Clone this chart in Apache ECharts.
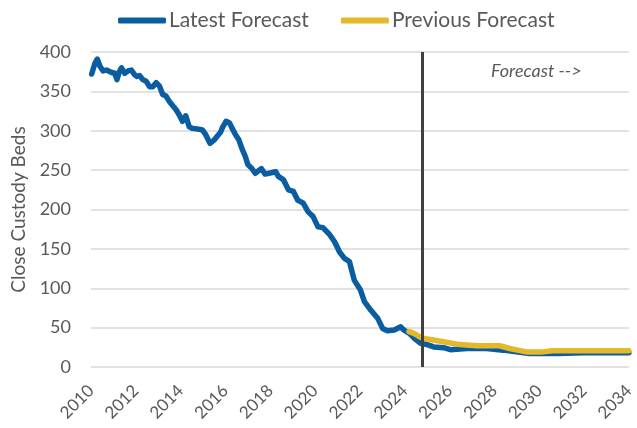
<!DOCTYPE html>
<html>
<head>
<meta charset="utf-8">
<script src="https://cdn.jsdelivr.net/npm/echarts@6/dist/echarts.min.js"></script>
<style>
    html, body { margin: 0; padding: 0; background: #fff; }
    #myChart { width: 637px; height: 428px; }
</style>
</head>
<body>
<div id="myChart"></div>
<script>
    // 最新预测 (历史 + 预测)
    const latestYears = [2010.03, 2010.18, 2010.28, 2010.40, 2010.54, 2010.69, 2010.92, 2011.06, 2011.16, 2011.25,
        2011.36, 2011.50, 2011.65, 2011.80, 2011.95, 2012.05, 2012.17, 2012.31, 2012.46, 2012.61,
        2012.76, 2012.91, 2013.05, 2013.20, 2013.35, 2013.50, 2013.64, 2013.79, 2013.94, 2014.08,
        2014.23, 2014.38, 2014.53, 2014.82, 2014.97, 2015.12, 2015.31, 2015.49, 2015.63, 2015.78,
        2015.88, 2016.03, 2016.18, 2016.30, 2016.45, 2016.59, 2016.74, 2016.89, 2017.00, 2017.18,
        2017.33, 2017.60, 2017.77, 2018.24, 2018.36, 2018.58, 2018.81, 2019.03, 2019.22, 2019.47,
        2019.69, 2019.91, 2020.13, 2020.35, 2020.65, 2020.87, 2021.09, 2021.31, 2021.53, 2021.75,
        2022.02, 2022.20, 2022.49, 2022.79, 2023.01, 2023.23, 2023.53, 2023.82, 2023.96, 2024.19,
        2024.48, 2024.71, 2025.00, 2025.29, 2025.73, 2026.03, 2026.77, 2027.65, 2028.39, 2028.98,
        2029.57, 2030.82, 2032.00, 2034.00]
    const latestBeds = [372, 386, 391, 382, 376, 377, 374, 373, 365, 374,
        380, 373, 376, 377, 371, 369, 370, 365, 363, 356,
        356, 361, 357, 346, 344, 337, 332, 327, 320, 312,
        319, 305, 303, 302, 301, 295, 284, 288, 293, 298,
        305, 312, 310, 303, 295, 289, 277, 267, 257, 252,
        246, 252, 245, 248, 242, 238, 225, 223, 212, 208,
        197, 191, 178, 177, 168, 159, 146, 138, 134, 110,
        98, 83, 72, 62, 49, 46, 47, 51, 47, 43,
        35, 30, 28.5, 25.5, 24.5, 22, 23.5, 23.5, 21.4, 19.2,
        17, 17, 18, 18]

    // 上一次预测
    const prevYears = [2024.19, 2024.41, 2024.71, 2025.00, 2025.73, 2026.33, 2027.21, 2028.24, 2028.68, 2029.42,
        2030.16, 2030.60, 2034.00]
    const prevBeds = [45, 42.7, 37.6, 35.5, 32, 29, 27, 27, 23.5, 19.2,
        19.2, 20.5, 20.5]

    const forecastStart = 2024.8
    const yTicks = [0, 50, 100, 150, 200, 250, 300, 350, 400]

    const zip = (xs, ys) => xs.map((x, i) => [x, ys[i]])

    const font = 'Lato, "Open Sans", sans-serif'
    const grey = '#595959'

    let opt = {
        animation: false,
        textStyle: { fontFamily: font },
        legend: {
            left: 113,
            top: 5,
            icon: 'roundRect',
            itemWidth: 48,
            itemHeight: 6,
            itemGap: 32,
            textStyle: { fontSize: 21, color: grey, fontFamily: font, padding: [0, 0, 0, -2] },
            data: ['Latest Forecast', 'Previous Forecast']
        },
        grid: { left: 91, right: 4, top: 52, bottom: 61 },
        xAxis: {
            type: 'value',
            min: 2010,
            max: 2034,
            interval: 2,
            axisLine: { show: false },
            axisTick: { show: false },
            splitLine: { show: false },
            axisLabel: {
                rotate: 45,
                margin: 21,
                fontSize: 17,
                color: grey,
                fontFamily: font,
                showMaxLabel: true,
                showMinLabel: true,
                padding: [0, 0, 0, 0],
                formatter: v => String(v)
            }
        },
        yAxis: {
            type: 'value',
            min: yTicks[0],
            max: yTicks[yTicks.length - 1],
            interval: 50,
            name: 'Close Custody Beds',
            nameLocation: 'middle',
            nameGap: 62,
            nameTextStyle: { fontSize: 19, color: grey, fontFamily: font },
            axisLine: { show: false },
            axisTick: { show: false },
            splitLine: { lineStyle: { color: '#d9d9d9', width: 1.5 } },
            axisLabel: { fontSize: 18, color: grey, margin: 20, fontFamily: font }
        },
        graphic: [{
            type: 'text',
            left: 491,
            top: 62,
            style: { text: 'Forecast -->', fontSize: 18, fontStyle: 'italic', fill: grey, fontFamily: font }
        }],
        series: [
            {
                name: 'Latest Forecast',
                type: 'line',
                showSymbol: false,
                symbol: 'none',
                data: zip(latestYears, latestBeds),
                lineStyle: { color: '#0B5DA2', width: 5.5, cap: 'round', join: 'round' },
                itemStyle: { color: '#0B5DA2' },
                markLine: {
                    silent: true,
                    symbol: 'none',
                    label: { show: false },
                    lineStyle: { color: '#404040', width: 3, type: 'solid' },
                    data: [{ xAxis: forecastStart }]
                }
            },
            {
                name: 'Previous Forecast',
                type: 'line',
                showSymbol: false,
                symbol: 'none',
                data: zip(prevYears, prevBeds),
                lineStyle: { color: '#E3B92A', width: 5.5, cap: 'round', join: 'round' },
                itemStyle: { color: '#E3B92A' }
            }
        ]
    }

    let myChart = echarts.init(document.getElementById('myChart'))
    myChart.setOption(opt)
</script>
</body>
</html>
